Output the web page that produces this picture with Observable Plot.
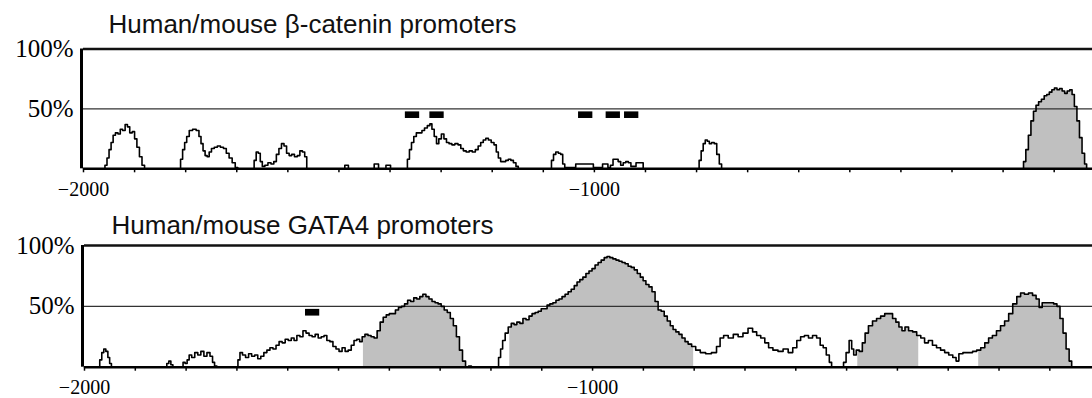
<!DOCTYPE html>
<html><head><meta charset="utf-8">
<script src="https://cdn.jsdelivr.net/npm/d3@7"></script>
<script src="https://cdn.jsdelivr.net/npm/@observablehq/plot@0.6"></script>
<style>
body{margin:0;background:#fff;}
#c svg{display:block;}
</style>
</head><body><div id="c"></div>
<script>
// ---------- data ----------
const topTitle = "Human/mouse β-catenin promoters";
const bottomTitle = "Human/mouse GATA4 promoters";
const yTickValues = [50, 100];
const xTickValues = [-2000,-1900,-1800,-1700,-1600,-1500,-1400,-1300,-1200,-1100,-1000,-900,-800,-700,-600,-500,-400,-300,-200,-100];
const xLabelValues = [-2000, -1000];
const siteLength = 28;

// β-catenin: [position (bp), identity %]
const topProfile = [
[-2000,0],[-1960,0],[-1956,3],[-1952,9],[-1948,16],[-1944,22],[-1940,28],[-1935,30],[-1930,29],[-1926,33],[-1921,32],[-1916,37],[-1912,35],[-1907,30],[-1902,31],[-1898,25],[-1893,18],[-1888,10],[-1883,3],[-1878,0],
[-1812,0],[-1808,8],[-1804,16],[-1800,22],[-1796,27],[-1790,32],[-1783,33],[-1776,32],[-1772,27],[-1768,21],[-1764,15],[-1760,11],[-1756,10],[-1752,14],[-1747,17],[-1741,18],[-1735,19],[-1729,18],[-1723,17],[-1718,13],[-1712,9],[-1706,5],[-1700,1],[-1696,0],
[-1668,0],[-1664,7],[-1660,14],[-1656,13],[-1652,6],[-1648,2],[-1642,3],[-1636,5],[-1630,4],[-1625,6],[-1620,12],[-1615,17],[-1610,21],[-1605,19],[-1600,13],[-1595,11],[-1590,12],[-1584,10],[-1579,11],[-1574,15],[-1569,14],[-1565,10],[-1561,0],
[-1490,0],[-1487,3],[-1483,3],[-1480,0],
[-1432,0],[-1430,4],[-1424,4],[-1421,0],[-1409,0],[-1407,3],[-1400,3],[-1398,0],
[-1368,0],[-1364,8],[-1360,16],[-1356,22],[-1351,27],[-1346,30],[-1340,30],[-1335,32],[-1330,34],[-1324,36],[-1320,37.5],[-1316,33],[-1311,27],[-1307,21],[-1302,25],[-1297,29],[-1292,25],[-1287,22],[-1282,21],[-1276,20],[-1270,21],[-1264,20],[-1259,17],[-1254,15],[-1248,14],[-1242,15],[-1236,14],[-1230,16],[-1225,19],[-1220,22],[-1215,24],[-1210,25.5],[-1205,24],[-1199,22],[-1194,20],[-1190,14],[-1186,9],[-1181,6],[-1176,6],[-1171,7],[-1166,8],[-1161,7],[-1156,5],[-1151,2],[-1147,0],
[-1086,0],[-1082,7],[-1078,12],[-1073,14],[-1068,13],[-1064,12],[-1060,4],[-1056,1],[-1048,1],[-1040,1],[-1033,4],[-1025,4],[-1018,4],[-1010,4],[-1004,4],[-1000,1],[-994,1],[-986,1],[-982,4],[-976,4],[-971,1],[-966,3],[-961,8],[-956,8],[-951,6],[-946,3],[-941,5],[-936,6],[-931,5],[-926,2],[-921,2],[-916,5],[-910,5],[-906,5],[-903,0],
[-797,0],[-793,7],[-789,15],[-785,21],[-781,24],[-777,23],[-773,21],[-768,22],[-763,21],[-758,12],[-753,4],[-749,0],
[-162,0],[-158,6],[-153,16],[-148,28],[-143,40],[-138,48],[-133,53],[-128,56],[-122,58],[-117,61],[-112,62],[-107,64],[-102,66],[-97,67.5],[-92,66],[-87,67],[-82,65],[-77,63],[-72,65],[-67,66],[-63,62],[-58,52],[-53,40],[-48,26],[-43,13],[-38,4],[-35,0],[-25,0]
];
const topConserved = [[-162, -35]];
const topSites = [-1370, -1322, -1031, -977, -941];

// GATA4: [position (bp), identity %]
const bottomProfile = [
[-2000,0],[-1972,0],[-1968,6],[-1964,12],[-1960,15],[-1956,13],[-1952,8],[-1949,3],[-1945,0],
[-1840,0],[-1836,3],[-1832,5],[-1828,2],[-1824,0],
[-1808,0],[-1804,4],[-1800,3],[-1796,6],[-1792,10],[-1786,8],[-1780,12],[-1774,10],[-1768,13],[-1762,9],[-1756,12],[-1750,9],[-1746,4],[-1742,1],[-1737,0],
[-1700,0],[-1696,6],[-1692,12],[-1686,10],[-1680,8],[-1674,11],[-1668,9],[-1662,10],[-1656,7],[-1650,9],[-1644,12],[-1638,14],[-1632,16],[-1626,15],[-1620,18],[-1614,21],[-1608,20],[-1602,23],[-1596,22],[-1590,24],[-1585,22],[-1579,26],[-1573,25],[-1567,30],[-1561,28],[-1555,26],[-1549,25],[-1543,27],[-1537,24],[-1531,25],[-1526,26],[-1520,22],[-1514,21],[-1508,17],[-1502,15],[-1496,13],[-1490,16],[-1484,13],[-1478,14],[-1472,18],[-1467,22],[-1461,23],[-1456,21],
[-1451,25],[-1445,27],[-1439,26],[-1433,25],[-1427,24],[-1421,30],[-1415,37],[-1409,41],[-1403,43],[-1397,44],[-1391,44],[-1385,47],[-1379,49],[-1373,50],[-1367,52],[-1361,55],[-1355,54],[-1349,57],[-1343,56],[-1337,58],[-1331,60],[-1325,58],[-1319,56],[-1313,54],[-1307,53],[-1301,52],[-1295,50],[-1289,47],[-1283,45],[-1277,40],[-1271,34],[-1265,25],[-1259,14],[-1253,5],[-1247,0],[-1241,1],[-1236,0],
[-1187,0],[-1183,8],[-1179,15],[-1175,22],[-1169,28],[-1163,33],[-1157,36],[-1152,35],[-1146,37],[-1140,36],[-1134,40],[-1128,39],[-1122,42],[-1116,44],[-1110,45],[-1104,46],[-1098,48],[-1092,48],[-1087,51],[-1081,52],[-1075,53],[-1069,55],[-1063,56],[-1057,58],[-1051,60],[-1045,62],[-1039,64],[-1033,67],[-1028,70],[-1022,72],[-1016,74],[-1010,77],[-1004,79],[-998,81],[-992,84],[-986,86],[-980,88],[-974,90],[-969,91],[-963,90],[-957,89],[-951,88],[-945,87],[-939,86],[-933,85],[-927,83],[-921,82],[-915,80],[-909,77],[-903,74],[-898,71],[-892,68],[-886,66],[-880,62],[-874,54],[-868,47],[-862,46],[-856,42],[-850,38],[-844,34],[-839,31],[-833,29],[-827,27],[-821,24],[-815,21],[-809,19],[-801,17],
[-793,14],[-783,12],[-772,11],[-760,12],[-752,17],[-746,24],[-738,26],[-728,24],[-718,27],[-709,25],[-699,28],[-689,32],[-681,29],[-673,26],[-665,24],[-657,20],[-650,16],[-640,14],[-630,13],[-620,15],[-610,12],[-602,16],[-594,22],[-587,25],[-579,26],[-571,24],[-563,26],[-555,24],[-549,18],[-543,16],[-537,10],[-531,4],[-528,0],[-508,0],[-504,4],[-498,12],[-492,22],[-488,15],[-484,10],
[-478,14],[-472,13],[-466,20],[-461,28],[-453,34],[-445,38],[-437,40],[-429,42],[-421,44],[-413,44],[-406,40],[-400,37],[-394,33],[-388,30],[-382,33],[-374,30],[-366,29],[-358,26],
[-350,24],[-343,20],[-335,22],[-327,18],[-319,16],[-311,14],[-303,12],[-295,10],[-287,8],[-282,5],[-276,11],[-266,12],[-256,12],[-248,13],
[-240,14],[-232,16],[-224,20],[-217,24],[-209,26],[-201,30],[-193,34],[-185,38],[-177,44],[-169,52],[-161,58],[-154,61],[-146,60],[-138,61],[-130,59],[-124,56],[-118,49],[-112,53],[-104,53],[-96,53],[-89,52],[-83,50],[-77,40],[-71,28],[-65,15],[-59,5],[-55,0],[-16,0]
];
const bottomConserved = [[-1451, -1247], [-1163, -801], [-478, -358], [-240, -55]];
const bottomSites = [-1565];

// ---------- drawing ----------
function panel({title, profile, conserved, sites, marginTop, marginBottom, marginLeft, xEnd, titleDx, titleDy}) {
  const pts = profile.map(([x, y]) => ({x, y}));
  const shaded = conserved.flatMap(([a, b], i) =>
    pts.filter(p => p.x >= a && p.x <= b).map(p => ({...p, seg: i})));
  return Plot.plot({
    width: 1092, height: 199,
    marginTop, marginBottom, marginLeft, marginRight: 0,
    x: {domain: [-2000, xEnd], axis: null},
    y: {domain: [0, 100], axis: null},
    style: {background: "white", color: "black"},
    marks: [
      Plot.areaY(shaded, {x: "x", y: "y", z: "seg", fill: "#c0c0c0", curve: "step"}),
      Plot.ruleY([50], {stroke: "#333", strokeWidth: 1.3}),
      Plot.ruleY([100], {stroke: "#111", strokeWidth: 2.4}),
      Plot.lineY(pts, {x: "x", y: "y", curve: "step", stroke: "black", strokeWidth: 1.6}),
      Plot.ruleY([0], {stroke: "black", strokeWidth: 2.6}),
      Plot.ruleX([-2000], {y1: 0, y2: 100, stroke: "black", strokeWidth: 3, dx: -2}),
      Plot.rect(sites, {x1: d => d, x2: d => d + siteLength, y1: 42, y2: 47.5, fill: "black"}),
      Plot.axisX(xTickValues, {
        label: null, tickSize: 4, tickPadding: 9, strokeWidth: 1.5,
        tickFormat: d => xLabelValues.includes(d) ? d3.format("d")(d) : "",
        fontFamily: "Liberation Serif", fontSize: 20
      }),
      Plot.axisY(yTickValues, {
        label: null, tickSize: 0, tickPadding: 10,
        tickFormat: d => d + "%",
        fontFamily: "Liberation Serif", fontSize: 25
      }),
      Plot.text([title], {
        text: d => d, frameAnchor: "top-left", textAnchor: "start", lineAnchor: "bottom",
        dx: titleDx, dy: titleDy, fontFamily: "Liberation Sans", fontSize: 26, fill: "#111"
      })
    ]
  });
}

const c = document.getElementById("c");
c.append(panel({title: topTitle, profile: topProfile, conserved: topConserved, sites: topSites,
  marginTop: 48.5, marginBottom: 30.7, marginLeft: 83, xEnd: -25, titleDx: 25, titleDy: -16}));
c.append(panel({title: bottomTitle, profile: bottomProfile, conserved: bottomConserved, sites: bottomSites,
  marginTop: 46, marginBottom: 31.3, marginLeft: 84, xEnd: -16, titleDx: 27, titleDy: -12}));
</script>
</body></html>
